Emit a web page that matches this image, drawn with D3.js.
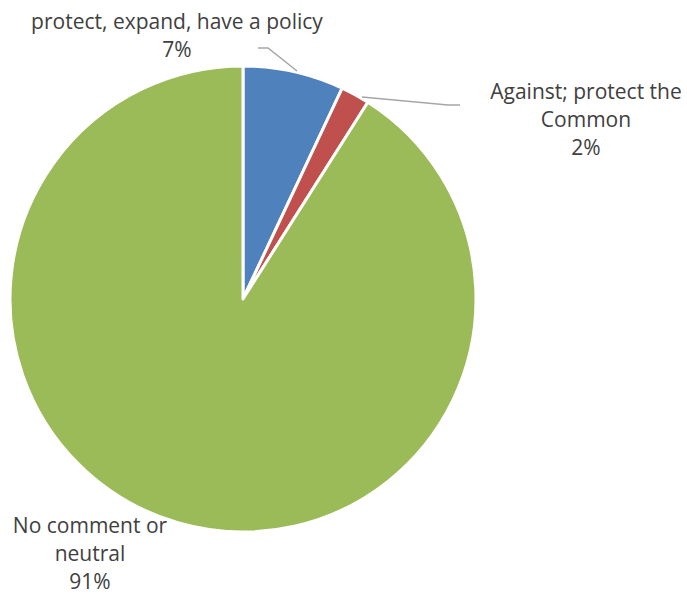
<!DOCTYPE html>
<html>
<head>
<meta charset="utf-8">
<script src="https://cdn.jsdelivr.net/npm/d3@7"></script>
<style>
  html, body { margin: 0; padding: 0; background: #fff; }
  svg { display: block; }
  text { font-family: "Open Sans", "Noto Sans", sans-serif; fill: #404040; }
</style>
</head>
<body>
<svg id="chart" width="687" height="598"></svg>
<script>
// Share of responses by stance
const categories = ["protect, expand, have a policy", "Against; protect the Common", "No comment or neutral"];
const values = [7, 2, 91];
const colors = ["#4F81BD", "#C0504D", "#9BBB59"];
// Label text, one array of lines per slice
const labelLines = [
  ["protect, expand, have a policy", "7%"],
  ["Against; protect the", "Common", "2%"],
  ["No comment or", "neutral", "91%"]
];

const svg = d3.select("#chart");
const cx = 243, cy = 299, r = 233;

const pie = d3.pie().sort(null).value(d => d)(values);
const arc = d3.arc().innerRadius(0).outerRadius(r);

const g = svg.append("g").attr("transform", `translate(${cx},${cy})`);
g.selectAll("path.slice")
  .data(pie)
  .join("path")
  .attr("class", "slice")
  .attr("d", arc)
  .attr("fill", (d, i) => colors[i])
  .attr("stroke", "#fff")
  .attr("stroke-width", 3)
  .attr("stroke-linejoin", "round");

// Leader lines for the two small slices
const leaders = [
  [[297, 71], [268, 48], [258, 48]],
  [[362, 97], [448, 105], [460, 105]]
];
svg.selectAll("path.leader")
  .data(leaders)
  .join("path")
  .attr("class", "leader")
  .attr("d", d3.line())
  .attr("fill", "none")
  .attr("stroke", "#A6A6A6")
  .attr("stroke-width", 1.5);

// Data labels: centre x and first baseline y
const labelPos = [[177, 29], [586, 99], [90, 533]];
const lineGap = 28;
labelLines.forEach((lines, i) => {
  const t = svg.append("text")
    .attr("text-anchor", "middle")
    .attr("font-size", 21);
  lines.forEach((s, j) => {
    t.append("tspan")
      .attr("x", labelPos[i][0])
      .attr("y", labelPos[i][1] + j * lineGap)
      .text(s);
  });
});
</script>
</body>
</html>
